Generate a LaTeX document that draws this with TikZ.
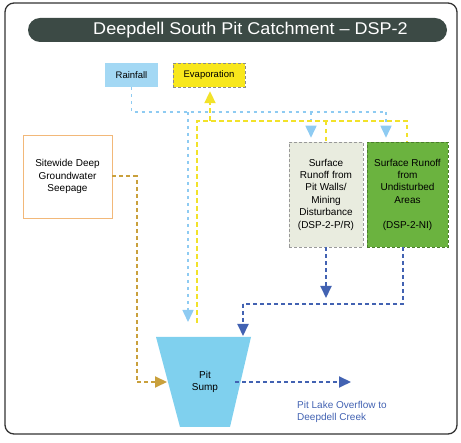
\documentclass[tikz,border=0pt]{standalone}
\usepackage{fontspec}
\setmainfont{Liberation Sans}
\usetikzlibrary{arrows.meta,calc}
\definecolor{titlegray}{HTML}{3C4A45}
\definecolor{rainblue}{HTML}{A3D8F4}
\definecolor{evapyellow}{HTML}{F8E71C}
\definecolor{rainline}{HTML}{8ECBF2}
\definecolor{evapline}{HTML}{F2E22A}
\definecolor{seepline}{HTML}{C9A03C}
\definecolor{darkflow}{HTML}{4262B2}
\definecolor{greenbox}{HTML}{6BB33F}
\definecolor{palebox}{HTML}{E9ECDF}
\definecolor{sumpblue}{HTML}{7FD0EE}
\definecolor{seepborder}{HTML}{F2B879}
\tikzset{
  lbl/.style={font=\fontsize{10}{12.4}\selectfont, align=center, inner sep=1pt},
  topbox/.style={lbl, font=\fontsize{9.5}{12}\selectfont, minimum height=24pt, inner sep=0pt},
  catchbox/.style={lbl, minimum height=105pt, draw, densely dashed, line width=0.5pt},
  rainflow/.style={draw=rainline, line width=1.5pt, dash pattern=on 3pt off 4pt},
  evapflow/.style={draw=evapline, line width=2pt, dash pattern=on 4.5pt off 3.5pt},
  seepflow/.style={draw=seepline, line width=2pt, dash pattern=on 4pt off 3pt},
  darkf/.style={draw=darkflow, line width=2pt, dash pattern=on 4pt off 3pt},
  tip/.style={-{Triangle[width=11pt,length=12pt]}},
}
\begin{document}
\begin{tikzpicture}[x=1pt,y=-1pt]
\useasboundingbox (0,0) rectangle (461,443);
\draw[rounded corners=9pt, line width=1.3pt, black!80] (5,3) rectangle (457,434);
\node[fill=titlegray, rounded corners=12pt, minimum width=419pt, minimum height=24pt, inner sep=0pt] (title) at (237.5,30) {};
\node[text=white, inner sep=0pt, font=\fontsize{17}{19}\selectfont] (titletext) at (250.5,30) {\scalebox{1.06}[1]{Deepdell South Pit Catchment -- DSP-2}};

\node[topbox, fill=rainblue, minimum width=53pt] (rain) at (131.5,75) {Rainfall};
\node[topbox, fill=evapyellow, draw=black!45, densely dashed, line width=0.4pt, minimum width=72pt] (evap) at (209,75) {Evaporation};

\node[lbl, draw=seepborder, line width=0.7pt, minimum width=89pt, minimum height=83pt] (seep) at (67.5,176.5)
  {Sitewide Deep\\Groundwater\\Seepage};

\node[catchbox, fill=palebox, draw=black!40, minimum width=74pt] (pr) at (326,194.5)
  {Surface\\Runoff from\\Pit Walls/\\Mining\\Disturbance\\(DSP-2-P/R)};
\node[catchbox, fill=greenbox, draw=greenbox!70!black, minimum width=81pt] (ni) at (407.5,194.5)
  {Surface Runoff\\from\\Undisturbed\\Areas\\[12.4pt](DSP-2-NI)};

% pit sump
\coordinate (sTL) at (156,337);
\coordinate (sTR) at (251,337);
\coordinate (sBR) at (230,427);
\coordinate (sBL) at (180,427);
\fill[sumpblue] (sTL) -- (sTR) -- (sBR) -- (sBL) -- cycle;
\node[lbl] (sump) at (205,382) {Pit\\Sump};
\coordinate (sL) at ($(sTL)!0.5!(sBL)$);

% rainfall network
\coordinate (rS) at (188,112);
\coordinate (rP) at (311,112);
\coordinate (rN) at (386,112);
\draw[rainflow] (rain.south) |- (rN);
\draw[rainflow, tip, shorten >=4pt] (rP) -- (pr.north -| rP);
\draw[rainflow, tip, shorten >=4pt] (rN) -- (ni.north -| rN);
\draw[rainflow, tip, shorten >=15pt] (rS) -- (rS |- sTL);

% evaporation network
\coordinate (eS) at (197,121);
\coordinate (eE) at (210,121);
\coordinate (eP) at (326,121);
\coordinate (eN) at (407,121);
\coordinate (eB) at (197,323);
\draw[evapflow] (eB) -- (eS) -- (eN) -- (ni.north -| eN);
\draw[evapflow] (eP) -- (pr.north);
\draw[evapflow, tip, shorten >=4pt] (eE) -- (evap.south -| eE);

% seepage
\coordinate (sc) at (137,382);
\draw[seepflow] (seep.east) -| (sc);
\draw[seepflow, tip, shorten >=1pt] (sc) -- (sL);

% dark flows
\coordinate (dj) at (243,304);
\coordinate (dn) at (403,247);
\draw[darkf, tip, shorten >=6pt] (pr.south) -- (pr.south |- dj);
\draw[darkf] (dn) |- (dj);
\draw[darkf, tip, shorten >=1pt] (dj) -- (dj |- sTR);

% overflow
\coordinate (o0) at (235,382);
\coordinate (o1) at (351,382);
\draw[darkf, tip] (o0) -- (o1);
\node[lbl, text=darkflow, align=left, anchor=north west] (ovl) at (296,400) {Pit Lake Overflow to\\Deepdell Creek};
\end{tikzpicture}
\end{document}
